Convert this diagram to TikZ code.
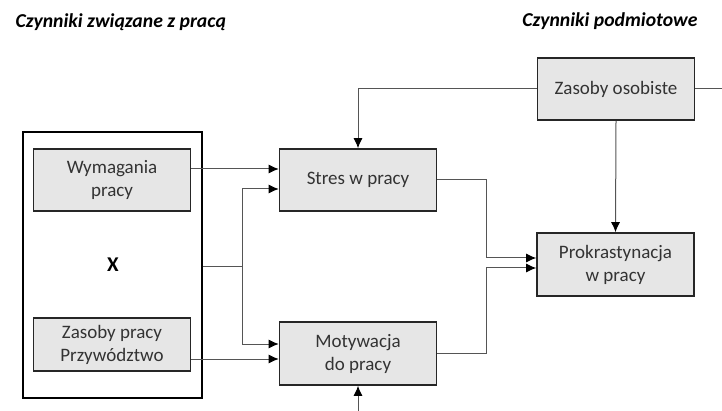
\documentclass[tikz,border=0pt]{standalone}
\usepackage{fontspec}
\setmainfont{Carlito}
\usetikzlibrary{arrows.meta,calc}
\definecolor{boxgray}{HTML}{E6E6E6}
\definecolor{linegray}{HTML}{555555}
\tikzset{
  box/.style={draw=black!85, line width=1.6pt, fill=boxgray, align=center,
    text=black!80, font=\fontsize{19}{23}\selectfont, inner sep=0pt,
    minimum width=157pt},
  title/.style={font=\fontsize{19.7}{23}\selectfont\bfseries\itshape},
  conn/.style={draw=linegray, line width=1pt},
  arr/.style={conn, -{Latex[black, length=10pt, width=9pt]}},
}
\begin{document}
\begin{tikzpicture}[x=1pt, y=-1pt]
  \useasboundingbox (0,0) rectangle (722,411);
  \node[title, anchor=base west] (tl) at (12,28) {Czynniki związane z pracą};
  \node[title, anchor=base east] (tr) at (701,27) {Czynniki podmiotowe};

  \node[draw=black, line width=2pt, minimum width=179pt, minimum height=266pt] (outer) at (112.5,265) {};
  \node[box, minimum height=62pt] (wym) at (112,180) {Wymagania\\pracy};
  \node[box, minimum height=53pt] (zpr) at (112,344.5) {Zasoby pracy\\Przywództwo};
  \node[font=\fontsize{21}{24}\selectfont\bfseries] (x) at (113,265) {X};

  \node[box, minimum height=62pt] (stres) at (358,180) {Stres w pracy};
  \node[box, minimum height=63pt] (motyw) at (358,353.5) {Motywacja\\do pracy};
  \node[box, minimum height=62pt] (zos) at (616,89) {Zasoby osobiste};
  \node[box, minimum height=63pt] (prok) at (615.5,264.5) {Prokrastynacja\\w pracy};

  \coordinate (rend) at (722,89);
  \coordinate (bot) at (358,411);
  \coordinate (j) at (242,267);
  \coordinate (p1) at ($(prok.west)+(0,-6.5)$);
  \coordinate (p2) at ($(prok.west)+(0,3.5)$);

  \draw[arr] (zos.west) -| (stres.north);
  \draw[conn] (zos.east) -- (rend);
  \draw[arr] (zos.south) -- (prok.north);
  \draw[arr] ($(wym.east)+(0,-11)$) -- ($(stres.west)+(0,-11)$);
  \draw[conn] (outer.east |- j) -- (j);
  \draw[arr] (j) |- ($(stres.west)+(0,9)$);
  \draw[arr] (j) |- ($(motyw.west)+(0,-9.5)$);
  \draw[arr] ($(zpr.east)+(0,14.5)$) -- ($(motyw.west)+(0,5.5)$);
  \draw[arr] (stres.east) -| ([xshift=-50pt]p1) -- (p1);
  \draw[arr] (motyw.east) -| ([xshift=-50pt]p2) -- (p2);
  \draw[arr] (bot) -- (motyw.south);
\end{tikzpicture}
\end{document}
